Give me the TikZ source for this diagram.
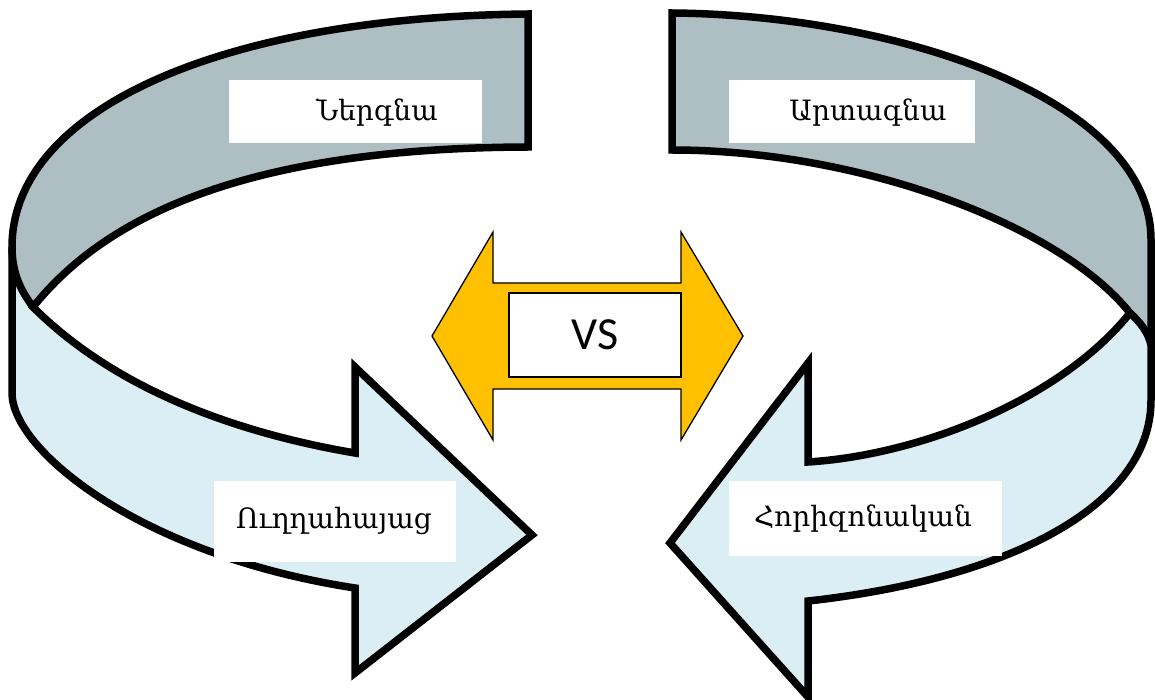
\documentclass[tikz,border=0pt]{standalone}
\usepackage{fontspec}
\usepackage{tikz}
\setmainfont{DejaVu Serif}
\newfontfamily\vsfont{Carlito}
\definecolor{bandgrey}{HTML}{AEBFC3}
\definecolor{bandblue}{HTML}{DAEEF3}
\definecolor{vsgold}{HTML}{FFC000}

\begin{document}
\begin{tikzpicture}[x=1pt, y=-1pt,
    band/.style={draw=black, line width=7.5pt, line join=miter},
    label/.style={inner sep=0pt, font=\fontsize{28}{32}\selectfont}]
    \useasboundingbox (0,0) rectangle (1155,700);

    % left ribbon, arrow to the right
    \fill[bandblue] (33,307) .. controls (95,230) and (220,148) .. (528,147) -- (528,14)
        .. controls (220,17) and (12,110) .. (12,247) -- (12,393)
        .. controls (12,450) and (140,555) .. (355,588)
        -- (355,673) -- (532,535) -- (355,367) -- (355,453)
        .. controls (220,430) and (108,382) .. (33,307) -- cycle;
    \fill[bandgrey] (33,307) .. controls (95,230) and (220,148) .. (528,147) -- (528,14)
        .. controls (220,17) and (12,110) .. (12,247)
        .. controls (12,275) and (22,292) .. (33,307) -- cycle;
    \draw[band] (33,307) .. controls (95,230) and (220,148) .. (528,147) -- (528,14)
        .. controls (220,17) and (12,110) .. (12,247) -- (12,393)
        .. controls (12,450) and (140,555) .. (355,588)
        -- (355,673) -- (532,535) -- (355,367) -- (355,453)
        .. controls (220,430) and (108,382) .. (33,307) -- cycle;
    \draw[band] (12,247) .. controls (12,275) and (22,292) .. (33,307);

    % right ribbon, arrow to the left
    \fill[bandblue] (1130,313) .. controls (1060,225) and (860,150) .. (672,150) -- (672,13)
        .. controls (900,15) and (1151,100) .. (1151,240) -- (1151,400)
        .. controls (1151,510) and (1000,580) .. (808,601)
        -- (808,697) -- (670,543) -- (808,363) -- (808,462)
        .. controls (920,455) and (1060,400) .. (1130,313) -- cycle;
    \fill[bandgrey] (1130,313) .. controls (1060,225) and (860,150) .. (672,150) -- (672,13)
        .. controls (900,15) and (1151,100) .. (1151,240) -- (1151,345)
        .. controls (1148,332) and (1140,322) .. (1130,313) -- cycle;
    \draw[band] (1130,313) .. controls (1060,225) and (860,150) .. (672,150) -- (672,13)
        .. controls (900,15) and (1151,100) .. (1151,240) -- (1151,400)
        .. controls (1151,510) and (1000,580) .. (808,601)
        -- (808,697) -- (670,543) -- (808,363) -- (808,462)
        .. controls (920,455) and (1060,400) .. (1130,313) -- cycle;
    \draw[band] (1130,313) .. controls (1140,322) and (1148,332) .. (1151,345);

    % label boxes
    \fill[white] (229,80) rectangle (482,143);
    \fill[white] (729,80) rectangle (975,143);
    \fill[white] (214,481) rectangle (456,562);
    \fill[white] (729,481) rectangle (1002,556);
    \node[label] (inward) at (377,113) {Ներգնա};
    \node[label] (outward) at (868,113) {Արտագնա};
    \node[label] (vertical) at (334,521) {Ուղղահայաց};
    \node[label] (horizontal) at (863,519) {Հորիզոնական};

    % double arrow in the middle
    \draw[fill=vsgold, line width=1.3pt] (432,336) -- (493,232) -- (493,283) -- (681,283) -- (681,232)
        -- (743,336) -- (681,440) -- (681,389) -- (493,389) -- (493,440) -- cycle;
    \node[draw, fill=white, line width=1.5pt, minimum width=172pt, minimum height=84pt,
        inner sep=0pt, font=\vsfont\fontsize{46}{50}\selectfont] (vs) at (595,335) {VS};
\end{tikzpicture}
\end{document}
